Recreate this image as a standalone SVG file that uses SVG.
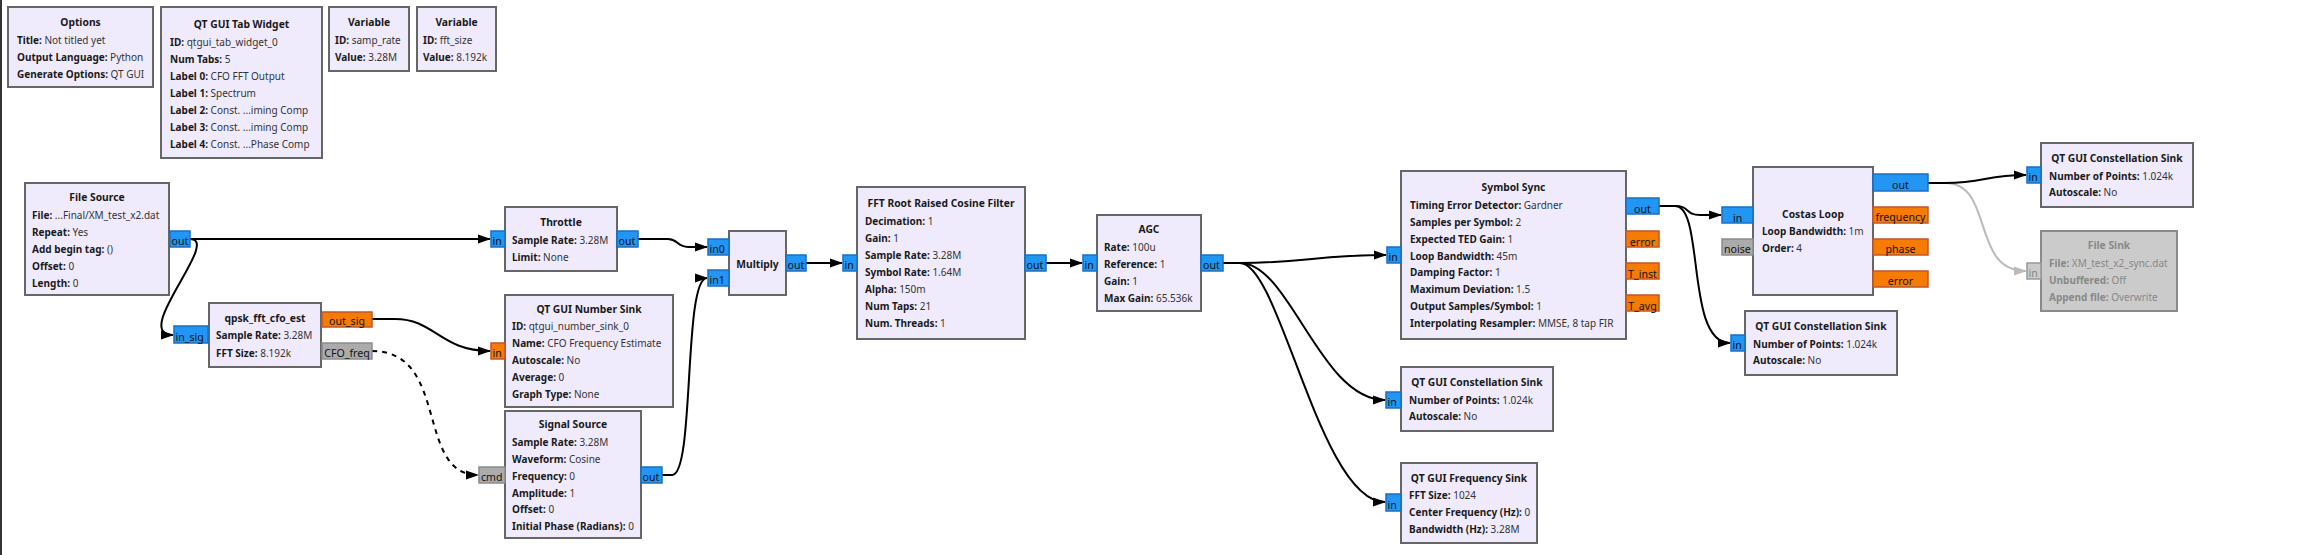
<svg xmlns="http://www.w3.org/2000/svg" width="2299" height="555" viewBox="0 0 2299 555">
<defs>
<style>
.blk{fill:#EFEBFD;stroke:#666;stroke-width:2}
.dis{fill:#CBCBCB;stroke:#8A8A8A;stroke-width:2}
.pb{fill:#2196F3;stroke:#1A6FC4;stroke-width:1.5}
.po{fill:#F57C00;stroke:#C0562A;stroke-width:1.5}
.pg{fill:#ABABAB;stroke:#8C8C8C;stroke-width:1.5}
.pd{fill:#CBCBCB;stroke:#999;stroke-width:1.5}
text{font-family:"Noto Sans","DejaVu Sans",sans-serif;font-size:10px;fill:#1A1A1A}
.t{font-weight:bold;text-anchor:middle;font-size:10.3px}
.k{font-weight:bold}
.v{fill:#333}
.pt{font-size:10.6px;fill:#111}
.c{text-anchor:middle}
.dt{fill:#888}
.w{stroke:#000;stroke-width:2;fill:none}
.wd{stroke:#000;stroke-width:2;fill:none;stroke-dasharray:5,5}
.wg{stroke:#BBB;stroke-width:2;fill:none}
</style>
<marker id="a" markerWidth="13" markerHeight="11" refX="12" refY="5.5" orient="auto" markerUnits="userSpaceOnUse"><path d="M0,1 L13,5.5 L0,10 z" fill="#000"/></marker>
<marker id="ag" markerWidth="13" markerHeight="11" refX="12" refY="5.5" orient="auto" markerUnits="userSpaceOnUse"><path d="M0,1 L13,5.5 L0,10 z" fill="#BBB"/></marker>
</defs>
<rect x="0" y="0" width="2299" height="555" fill="#fff"/>
<rect x="0" y="0" width="2" height="555" fill="#333"/>

<g id="connectors">
<path class="w" d="M190,239 L490,239" marker-end="url(#a)"/>
<path class="w" d="M190,239 C222,239 130,335 173,335" marker-end="url(#a)"/>
<path class="w" d="M638,239 L668,239 C678,239 677,247 688,247 L707,247" marker-end="url(#a)"/>
<path class="w" d="M372,319 L395,319 C435,319 440,351 490,351" marker-end="url(#a)"/>
<path class="wd" d="M372,351 C450,351 415,475 478,475" marker-end="url(#a)"/>
<path class="w" d="M662,475 L672,475 C695,475 683,278 707,278" marker-end="url(#a)"/>
<path class="w" d="M806,263 L842,263" marker-end="url(#a)"/>
<path class="w" d="M1046,263 L1082,263" marker-end="url(#a)"/>
<path class="w" d="M1223,263 L1240,263 C1300,263 1320,255 1386,255" marker-end="url(#a)"/>
<path class="w" d="M1223,263 L1240,263 C1290,263 1320,400 1385,400" marker-end="url(#a)"/>
<path class="w" d="M1223,263 L1240,263 C1280,263 1320,502 1385,502" marker-end="url(#a)"/>
<path class="w" d="M1659,206 L1675,206 C1690,206 1685,215 1700,215 L1721,215" marker-end="url(#a)"/>
<path class="w" d="M1659,206 L1675,206 C1705,206 1685,343 1730,343" marker-end="url(#a)"/>
<path class="wg" d="M1928,183 L1945,183 C1995,183 1970,271 2026,271" marker-end="url(#ag)"/>
<path class="w" d="M1928,183 L1945,183 C1985,183 1985,175 2026,175" marker-end="url(#a)"/>
</g>

<g id="options">
<rect class="blk" x="8" y="7" width="145" height="80"/>
<text class="t" x="80.5" y="26">Options</text>
<text x="17" y="43.5"><tspan class="k">Title:</tspan><tspan class="v"> Not titled yet</tspan></text>
<text x="17" y="60.5"><tspan class="k">Output Language:</tspan><tspan class="v"> Python</tspan></text>
<text x="17" y="77.5"><tspan class="k">Generate Options:</tspan><tspan class="v"> QT GUI</tspan></text>
</g>

<g id="tab_widget">
<rect class="blk" x="161" y="7" width="161" height="151"/>
<text class="t" x="241.5" y="28">QT GUI Tab Widget</text>
<text x="170" y="45.5"><tspan class="k">ID:</tspan><tspan class="v"> qtgui_tab_widget_0</tspan></text>
<text x="170" y="62.5"><tspan class="k">Num Tabs:</tspan><tspan class="v"> 5</tspan></text>
<text x="170" y="79.5"><tspan class="k">Label 0:</tspan><tspan class="v"> CFO FFT Output</tspan></text>
<text x="170" y="96.5"><tspan class="k">Label 1:</tspan><tspan class="v"> Spectrum</tspan></text>
<text x="170" y="113.5"><tspan class="k">Label 2:</tspan><tspan class="v"> Const. ...iming Comp</tspan></text>
<text x="170" y="130.5"><tspan class="k">Label 3:</tspan><tspan class="v"> Const. ...iming Comp</tspan></text>
<text x="170" y="147.5"><tspan class="k">Label 4:</tspan><tspan class="v"> Const. ...Phase Comp</tspan></text>
</g>

<g id="var_samp_rate">
<rect class="blk" x="329" y="7" width="80" height="64"/>
<text class="t" x="369" y="26">Variable</text>
<text x="335" y="43.5"><tspan class="k">ID:</tspan><tspan class="v"> samp_rate</tspan></text>
<text x="335" y="61"><tspan class="k">Value:</tspan><tspan class="v"> 3.28M</tspan></text>
</g>

<g id="var_fft_size">
<rect class="blk" x="417" y="7" width="79" height="64"/>
<text class="t" x="456.5" y="26">Variable</text>
<text x="423" y="43.5"><tspan class="k">ID:</tspan><tspan class="v"> fft_size</tspan></text>
<text x="423" y="61"><tspan class="k">Value:</tspan><tspan class="v"> 8.192k</tspan></text>
</g>

<g id="file_source">
<rect class="blk" x="25" y="183" width="144" height="112"/>
<text class="t" x="97" y="201">File Source</text>
<text x="32" y="218.5"><tspan class="k">File:</tspan><tspan class="v"> ...Final/XM_test_x2.dat</tspan></text>
<text x="32" y="235.5"><tspan class="k">Repeat:</tspan><tspan class="v"> Yes</tspan></text>
<text x="32" y="252.5"><tspan class="k">Add begin tag:</tspan><tspan class="v"> ()</tspan></text>
<text x="32" y="269.5"><tspan class="k">Offset:</tspan><tspan class="v"> 0</tspan></text>
<text x="32" y="286.5"><tspan class="k">Length:</tspan><tspan class="v"> 0</tspan></text>
<rect class="pb" x="170" y="231" width="20" height="16"/>
<text class="pt" x="171.5" y="244.5">out</text>
</g>

<g id="qpsk_fft_cfo_est">
<rect class="blk" x="209" y="303" width="112" height="64"/>
<text class="t" x="265" y="321.5">qpsk_fft_cfo_est</text>
<text x="216" y="339"><tspan class="k">Sample Rate:</tspan><tspan class="v"> 3.28M</tspan></text>
<text x="216" y="356.5"><tspan class="k">FFT Size:</tspan><tspan class="v"> 8.192k</tspan></text>
<rect class="pb" x="174" y="326" width="34" height="17"/>
<text class="pt" x="175.5" y="340.5">in_sig</text>
<rect class="po" x="322" y="312" width="50" height="15"/>
<text class="pt c" x="347" y="325">out_sig</text>
<rect class="pg" x="322" y="343" width="50" height="16"/>
<text class="pt c" x="347" y="357">CFO_freq</text>
</g>

<g id="throttle">
<rect class="blk" x="505" y="207" width="112" height="64"/>
<text class="t" x="561" y="225.5">Throttle</text>
<text x="512" y="244"><tspan class="k">Sample Rate:</tspan><tspan class="v"> 3.28M</tspan></text>
<text x="512" y="260.5"><tspan class="k">Limit:</tspan><tspan class="v"> None</tspan></text>
<rect class="pb" x="491" y="231" width="14" height="16"/>
<text class="pt" x="492.5" y="245">in</text>
<rect class="pb" x="617" y="231" width="21" height="16"/>
<text class="pt" x="618.5" y="245">out</text>
</g>

<g id="number_sink">
<rect class="blk" x="505" y="295" width="168" height="112"/>
<text class="t" x="589" y="312.5">QT GUI Number Sink</text>
<text x="512" y="330"><tspan class="k">ID:</tspan><tspan class="v"> qtgui_number_sink_0</tspan></text>
<text x="512" y="347"><tspan class="k">Name:</tspan><tspan class="v"> CFO Frequency Estimate</tspan></text>
<text x="512" y="364"><tspan class="k">Autoscale:</tspan><tspan class="v"> No</tspan></text>
<text x="512" y="381"><tspan class="k">Average:</tspan><tspan class="v"> 0</tspan></text>
<text x="512" y="398"><tspan class="k">Graph Type:</tspan><tspan class="v"> None</tspan></text>
<rect class="po" x="491" y="343" width="14" height="16"/>
<text class="pt" x="492.5" y="357">in</text>
</g>

<g id="signal_source">
<rect class="blk" x="505" y="411" width="136" height="127"/>
<text class="t" x="573" y="428">Signal Source</text>
<text x="512" y="445.5"><tspan class="k">Sample Rate:</tspan><tspan class="v"> 3.28M</tspan></text>
<text x="512" y="462.5"><tspan class="k">Waveform:</tspan><tspan class="v"> Cosine</tspan></text>
<text x="512" y="479.5"><tspan class="k">Frequency:</tspan><tspan class="v"> 0</tspan></text>
<text x="512" y="496.5"><tspan class="k">Amplitude:</tspan><tspan class="v"> 1</tspan></text>
<text x="512" y="513"><tspan class="k">Offset:</tspan><tspan class="v"> 0</tspan></text>
<text x="512" y="530"><tspan class="k">Initial Phase (Radians):</tspan><tspan class="v"> 0</tspan></text>
<rect class="pg" x="479" y="467" width="26" height="16"/>
<text class="pt" x="481" y="481">cmd</text>
<rect class="pb" x="641" y="467" width="21" height="16"/>
<text class="pt" x="642.5" y="481">out</text>
</g>

<g id="multiply">
<rect class="blk" x="729" y="231" width="57" height="64"/>
<text class="t" x="757.5" y="267.5">Multiply</text>
<rect class="pb" x="708" y="239" width="21" height="16"/>
<text class="pt" x="709.5" y="253">in0</text>
<rect class="pb" x="708" y="270" width="21" height="16"/>
<text class="pt" x="709.5" y="284">in1</text>
<rect class="pb" x="786" y="255" width="20" height="16"/>
<text class="pt" x="787.5" y="269">out</text>
</g>

<g id="fft_rrc_filter">
<rect class="blk" x="857" y="187" width="168" height="152"/>
<text class="t" x="941" y="207">FFT Root Raised Cosine Filter</text>
<text x="865" y="225"><tspan class="k">Decimation:</tspan><tspan class="v"> 1</tspan></text>
<text x="865" y="242"><tspan class="k">Gain:</tspan><tspan class="v"> 1</tspan></text>
<text x="865" y="259"><tspan class="k">Sample Rate:</tspan><tspan class="v"> 3.28M</tspan></text>
<text x="865" y="276"><tspan class="k">Symbol Rate:</tspan><tspan class="v"> 1.64M</tspan></text>
<text x="865" y="293"><tspan class="k">Alpha:</tspan><tspan class="v"> 150m</tspan></text>
<text x="865" y="310"><tspan class="k">Num Taps:</tspan><tspan class="v"> 21</tspan></text>
<text x="865" y="327"><tspan class="k">Num. Threads:</tspan><tspan class="v"> 1</tspan></text>
<rect class="pb" x="843" y="255" width="14" height="16"/>
<text class="pt" x="844.5" y="269">in</text>
<rect class="pb" x="1025" y="255" width="21" height="16"/>
<text class="pt" x="1026.5" y="269">out</text>
</g>

<g id="agc">
<rect class="blk" x="1097" y="215" width="104" height="96"/>
<text class="t" x="1149" y="233">AGC</text>
<text x="1104" y="250.5"><tspan class="k">Rate:</tspan><tspan class="v"> 100u</tspan></text>
<text x="1104" y="267.5"><tspan class="k">Reference:</tspan><tspan class="v"> 1</tspan></text>
<text x="1104" y="284.5"><tspan class="k">Gain:</tspan><tspan class="v"> 1</tspan></text>
<text x="1104" y="301.5"><tspan class="k">Max Gain:</tspan><tspan class="v"> 65.536k</tspan></text>
<rect class="pb" x="1083" y="255" width="14" height="16"/>
<text class="pt" x="1084.5" y="269">in</text>
<rect class="pb" x="1201" y="255" width="22" height="16"/>
<text class="pt" x="1203" y="269">out</text>
</g>

<g id="symbol_sync">
<rect class="blk" x="1401" y="171" width="225" height="168"/>
<text class="t" x="1513.5" y="191">Symbol Sync</text>
<text x="1410" y="208.5"><tspan class="k">Timing Error Detector:</tspan><tspan class="v"> Gardner</tspan></text>
<text x="1410" y="225.5"><tspan class="k">Samples per Symbol:</tspan><tspan class="v"> 2</tspan></text>
<text x="1410" y="242.5"><tspan class="k">Expected TED Gain:</tspan><tspan class="v"> 1</tspan></text>
<text x="1410" y="259.5"><tspan class="k">Loop Bandwidth:</tspan><tspan class="v"> 45m</tspan></text>
<text x="1410" y="276"><tspan class="k">Damping Factor:</tspan><tspan class="v"> 1</tspan></text>
<text x="1410" y="293"><tspan class="k">Maximum Deviation:</tspan><tspan class="v"> 1.5</tspan></text>
<text x="1410" y="310"><tspan class="k">Output Samples/Symbol:</tspan><tspan class="v"> 1</tspan></text>
<text x="1410" y="327"><tspan class="k">Interpolating Resampler:</tspan><tspan class="v"> MMSE, 8 tap FIR</tspan></text>
<rect class="pb" x="1387" y="247" width="14" height="16"/>
<text class="pt" x="1388.5" y="261">in</text>
<rect class="pb" x="1626" y="198" width="33" height="16"/>
<text class="pt c" x="1642.5" y="212.5">out</text>
<rect class="po" x="1626" y="231" width="33" height="16"/>
<text class="pt c" x="1642.5" y="245.5">error</text>
<rect class="po" x="1626" y="263" width="33" height="16"/>
<text class="pt c" x="1642.5" y="277.5">T_inst</text>
<rect class="po" x="1626" y="295" width="33" height="16"/>
<text class="pt c" x="1642.5" y="309.5">T_avg</text>
</g>

<g id="const_sink_agc">
<rect class="blk" x="1401" y="367" width="152" height="64"/>
<text class="t" x="1477" y="386">QT GUI Constellation Sink</text>
<text x="1409" y="403.5"><tspan class="k">Number of Points:</tspan><tspan class="v"> 1.024k</tspan></text>
<text x="1409" y="420"><tspan class="k">Autoscale:</tspan><tspan class="v"> No</tspan></text>
<rect class="pb" x="1386" y="392" width="15" height="16"/>
<text class="pt" x="1387.5" y="406">in</text>
</g>

<g id="freq_sink">
<rect class="blk" x="1401" y="463" width="136" height="80"/>
<text class="t" x="1469" y="482">QT GUI Frequency Sink</text>
<text x="1409" y="499"><tspan class="k">FFT Size:</tspan><tspan class="v"> 1024</tspan></text>
<text x="1409" y="516"><tspan class="k">Center Frequency (Hz):</tspan><tspan class="v"> 0</tspan></text>
<text x="1409" y="533"><tspan class="k">Bandwidth (Hz):</tspan><tspan class="v"> 3.28M</tspan></text>
<rect class="pb" x="1386" y="494" width="15" height="17"/>
<text class="pt" x="1387.5" y="508.5">in</text>
</g>

<g id="costas_loop">
<rect class="blk" x="1753" y="167" width="120" height="128"/>
<text class="t" x="1813" y="217.5">Costas Loop</text>
<text x="1762" y="235"><tspan class="k">Loop Bandwidth:</tspan><tspan class="v"> 1m</tspan></text>
<text x="1762" y="252"><tspan class="k">Order:</tspan><tspan class="v"> 4</tspan></text>
<rect class="pb" x="1722" y="207" width="31" height="16"/>
<text class="pt" x="1733" y="221.5">in</text>
<rect class="pg" x="1722" y="239" width="31" height="16"/>
<text class="pt" x="1724" y="253">noise</text>
<rect class="pb" x="1873" y="174" width="55" height="17"/>
<text class="pt c" x="1900.5" y="189">out</text>
<rect class="po" x="1873" y="207" width="55" height="16"/>
<text class="pt c" x="1900.5" y="221">frequency</text>
<rect class="po" x="1873" y="239" width="55" height="16"/>
<text class="pt c" x="1900.5" y="253">phase</text>
<rect class="po" x="1873" y="271" width="55" height="16"/>
<text class="pt c" x="1900.5" y="285">error</text>
</g>

<g id="const_sink_sync">
<rect class="blk" x="1745" y="311" width="152" height="64"/>
<text class="t" x="1821" y="330">QT GUI Constellation Sink</text>
<text x="1753" y="347.5"><tspan class="k">Number of Points:</tspan><tspan class="v"> 1.024k</tspan></text>
<text x="1753" y="364"><tspan class="k">Autoscale:</tspan><tspan class="v"> No</tspan></text>
<rect class="pb" x="1731" y="335" width="14" height="16"/>
<text class="pt" x="1732.5" y="349">in</text>
</g>

<g id="const_sink_costas">
<rect class="blk" x="2041" y="143" width="152" height="64"/>
<text class="t" x="2117" y="162">QT GUI Constellation Sink</text>
<text x="2049" y="179.5"><tspan class="k">Number of Points:</tspan><tspan class="v"> 1.024k</tspan></text>
<text x="2049" y="196"><tspan class="k">Autoscale:</tspan><tspan class="v"> No</tspan></text>
<rect class="pb" x="2027" y="167" width="14" height="16"/>
<text class="pt" x="2028.5" y="181">in</text>
</g>

<g id="file_sink">
<rect class="dis" x="2041" y="231" width="136" height="80"/>
<text class="t dt" x="2109" y="249">File Sink</text>
<text class="dt" x="2049" y="266.5"><tspan class="k">File:</tspan> XM_test_x2_sync.dat</text>
<text class="dt" x="2049" y="283.5"><tspan class="k">Unbuffered:</tspan> Off</text>
<text class="dt" x="2049" y="300.5"><tspan class="k">Append file:</tspan> Overwrite</text>
<rect class="pd" x="2027" y="263" width="14" height="16"/>
<text class="pt dt" x="2028.5" y="277">in</text>
</g>
</svg>
